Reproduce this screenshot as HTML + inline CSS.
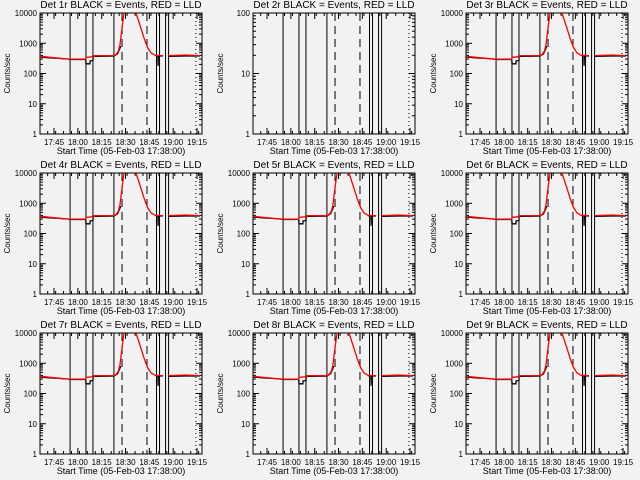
<!DOCTYPE html>
<html><head><meta charset="utf-8"><style>
html,body{margin:0;padding:0;background:#f2f2f2;}
svg{display:block;font-family:"Liberation Sans",sans-serif;}
</style></head><body>
<svg id="chart" width="640" height="480" viewBox="0 0 640 480" xmlns="http://www.w3.org/2000/svg">
<rect width="640" height="480" fill="#f2f2f2"/>
</svg>
<script>
// minutes since 17:38:00
const tickLabels = ["17:45","18:00","18:15","18:30","18:45","19:00","19:15"];
const tickMinutes = [7,22,37,52,67,82,97];
const blackT = [-1.8,4,10,16,17,27,27.1,29.6,29.7,31.5,31.6,44.7,47,49,null,70.6,72.4,72.5,72.6,75.6,null,78.7,90,98.9];
const blackV = [350,330,315,300,290,290,210,210,260,270,370,375,450,800,null,390,380,180,380,380,null,370,380,380];
const redT = [-1.8,10,17,27,27.1,31.5,32,44.7,46,47.5,48.5,49.5,50.5,51.3,null,58,60,62,64,66,68,70.6,75.6,null,78.7,90,98.9];
const redV = [370,320,300,300,340,360,390,390,420,550,900,2500,6000,12000,null,12000,6000,2800,1300,700,480,400,390,null,390,410,390];
const solidLines = [17.1,27.1,31.5,44.7,71.5,73.4,77.2,79.1];
const dashedLines = [49.8,65.5];
const dottedLines = [96.3];
const NS="http://www.w3.org/2000/svg";
const svg=document.getElementById('chart');
function mk(tag,attrs,parent){const e=document.createElementNS(NS,tag);for(const k in attrs)e.setAttribute(k,attrs[k]);(parent||svg).appendChild(e);return e;}
const W=162,H=121;
for(let p=0;p<9;p++){
  const col=p%3,row=Math.floor(p/3);
  const L=40+213*col,T=13+160*row;
  const decades = p===1?2:4;
  const g=mk('g',{});
  
  
  const xs=t=>L+2.9+t*1.589;
  const ys=v=>T+H-Math.log10(v)/decades*H;
  const cp=mk('clipPath',{id:'cp'+p},g);
  mk('rect',{x:L,y:T,width:W,height:H},cp);
  // title
  const tt=mk('text',{x:L+81,y:T-5,'font-size':10,'text-anchor':'middle',fill:'#000'},g);
  tt.textContent='Det '+(p+1)+'r BLACK = Events, RED = LLD';
  
  
  // frame
  const fr=mk('rect',{x:L,y:T,width:W,height:H,fill:'none',stroke:'#000','stroke-width':1},g);
  
  
  // y ticks
  for(let d=0;d<=decades;d++){
    const y=ys(Math.pow(10,d));
    mk('line',{x1:L,x2:L+6,y1:y,y2:y,stroke:'#000'},g);
    mk('line',{x1:L+W-6,x2:L+W,y1:y,y2:y,stroke:'#000'},g);
    const lb=mk('text',{x:L-3,y:y+3,'font-size':8,'text-anchor':'end'},g);
    lb.textContent=String(Math.pow(10,d));
    
    
    if(d<decades)for(let m=2;m<10;m++){const ym=ys(m*Math.pow(10,d));
      mk('line',{x1:L,x2:L+3,y1:ym,y2:ym,stroke:'#000'},g);
      mk('line',{x1:L+W-3,x2:L+W,y1:ym,y2:ym,stroke:'#000'},g);}
  }
  // x ticks
  tickMinutes.forEach((m,i)=>{
    const x=xs(m);
    mk('line',{x1:x,x2:x,y1:T+H,y2:T+H-6,stroke:'#000'},g);
    mk('line',{x1:x,x2:x,y1:T,y2:T+6,stroke:'#000'},g);
    const lb=mk('text',{x:x,y:T+H+11,'font-size':8,'text-anchor':'middle'},g);
    lb.textContent=tickLabels[i];
    
    
  });
  for(let m=-2;m<=100;m+=5){const x=xs(m);if(x<L||x>L+W)continue;
    mk('line',{x1:x,x2:x,y1:T+H,y2:T+H-3,stroke:'#000'},g);
    mk('line',{x1:x,x2:x,y1:T,y2:T+3,stroke:'#000'},g);}
  const xt=mk('text',{x:L+81,y:T+H+20,'font-size':9,'text-anchor':'middle'},g);
  xt.textContent='Start Time (05-Feb-03 17:38:00)';
  
  
  const yt=mk('text',{x:0,y:0,'font-size':8,'text-anchor':'middle',transform:'translate('+(L-30)+','+(T+H/2)+') rotate(-90)'},g);
  yt.textContent='Counts/sec';
  
  
  // vertical lines
  const vg=mk('g',{'clip-path':'url(#cp'+p+')'},g);
  solidLines.forEach(t=>{const l=mk('line',{x1:xs(t),x2:xs(t),y1:T,y2:T+H,stroke:'#000'},vg);
    });
  dashedLines.forEach(t=>{const l=mk('line',{x1:xs(t),x2:xs(t),y1:T,y2:T+H,stroke:'#000','stroke-dasharray':'8,5'},vg);
    });
  dottedLines.forEach(t=>{const l=mk('line',{x1:xs(t),x2:xs(t),y1:T,y2:T+H,stroke:'#000','stroke-dasharray':'1,3'},vg);
    });
  // series
  if(p!==1){
    [[blackT,blackV,'#000','events-series'],[redT,redV,'#f00','lld-series']].forEach(([ts,vs,c,nm])=>{
      let pts=[];
      const flush=()=>{if(pts.length>1){const pl=mk('polyline',{points:pts.join(' '),fill:'none',stroke:c,'stroke-width':1.3},vg);
        }pts=[];};
      for(let i=0;i<ts.length;i++){if(ts[i]===null){flush();continue;}pts.push(xs(ts[i]).toFixed(1)+','+ys(vs[i]).toFixed(1));}
      flush();
    });
  }
}
</script>
</body></html>
